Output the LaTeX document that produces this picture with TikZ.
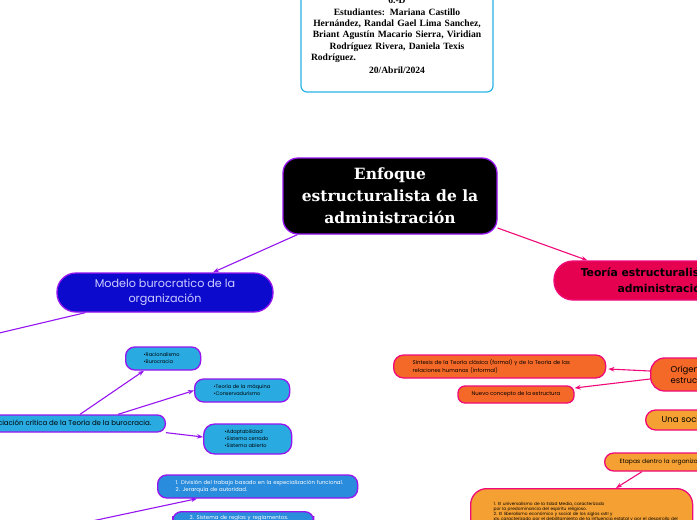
\documentclass[tikz,border=0pt]{standalone}
\usepackage{fontspec}
\setmainfont{Liberation Serif}
\newfontfamily\popf{Poppins}
\newfontfamily\dvsf{DejaVu Sans}
\newfontfamily\dvserif{DejaVu Serif}
\usetikzlibrary{arrows.meta,calc}
\definecolor{purp}{RGB}{150,20,240}
\definecolor{pinkl}{RGB}{240,10,120}
\definecolor{cyanb}{RGB}{40,180,230}
\definecolor{royal}{RGB}{12,10,205}
\definecolor{lblue}{RGB}{41,171,226}
\definecolor{mblue}{RGB}{42,140,220}
\definecolor{crim}{RGB}{230,0,80}
\definecolor{oran}{RGB}{245,105,40}
\definecolor{lora}{RGB}{245,160,50}
\definecolor{lav}{RGB}{205,205,255}
\tikzset{
  x=1pt,y=-1pt,
  bx/.style={draw=purp, line width=1.3pt, inner sep=0pt, rounded corners=#1},
  bx/.default=10pt,
  pbx/.style={draw=pinkl, line width=1.3pt, inner sep=0pt, rounded corners=#1},
  pbx/.default=10pt,
  parr/.style={draw=purp, line width=1.1pt, -{Stealth[length=6pt,width=4.5pt]}},
  karr/.style={draw=pinkl, line width=1.1pt, -{Stealth[length=6pt,width=4.5pt]}},
  tiny/.style={font=\popf\fontsize{5}{7}\selectfont},
}
\begin{document}
\begin{tikzpicture}
\useasboundingbox (0,0) rectangle (697,520);
\fill[white] (0,0) rectangle (697,520);
\clip (0,0) rectangle (697,520);

% info box
\node[draw=cyanb, line width=1.2pt, rounded corners=6pt, fill=white, inner xsep=4pt,
  text width=184pt, align=center, minimum height=113pt,
  font=\bfseries\fontsize{9.6}{11.4}\selectfont] (info) at (397,35.5)
  {6.-D\\Estudiantes: Mariana Castillo\\Hernández, Randal Gael Lima Sanchez,\\Briant Agustín Macario Sierra, Viridian\\Rodríguez Rivera, Daniela Texis\\\makebox[172pt][l]{Rodríguez.}\\[1.5pt]20/Abril/2024};

% root
\node[bx=15pt, fill=black, text=white, minimum width=214pt, minimum height=76pt, align=center,
  font=\dvserif\bfseries\fontsize{15.5}{22}\selectfont] (root) at (390,196)
  {Enfoque\\estructuralista de la\\ administración};

% left branch
\node[bx=19pt, fill=royal, text=lav, minimum width=216pt, minimum height=39pt, align=center,
  font=\popf\fontsize{11.2}{15}\selectfont] (modelo) at (165,292.5)
  {Modelo burocratico de la\\organización};
\coordinate (offl) at (-5,334);
\coordinate (offb) at (85,522.5);

\node[bx=8pt, fill=lblue, minimum height=17pt, inner xsep=14pt, anchor=east,
  font=\popf\fontsize{7}{9}\selectfont] (apre) at (166,423.5)
  {Apreciación crítica de la Teoría de la burocracia.};

\node[bx=9pt, fill=lblue, anchor=west, minimum width=75pt, minimum height=23pt, inner xsep=18pt,
  text width=39pt, align=left, tiny] (racio) at (125,358.5)
  {\mbox{•Racionalismo}\\\mbox{•Burocracia}};
\node[bx=9pt, fill=lblue, anchor=west, minimum width=95pt, minimum height=23pt, inner xsep=19pt,
  text width=57pt, align=left, tiny] (maq) at (194,390.5)
  {\mbox{•Teoría de la máquina}\\\mbox{•Conservadurismo}};
\node[bx=11pt, fill=lblue, anchor=west, minimum width=88pt, minimum height=30pt, inner xsep=21pt,
  text width=46pt, align=left, tiny] (adap) at (203,439)
  {\mbox{•Adaptabilidad}\\\mbox{•Sistema cerrado}\\\mbox{•Sistema abierto}};

\node[bx=9pt, fill=mblue, text=white, anchor=west, minimum width=200pt, minimum height=23pt, inner xsep=18pt,
  text width=164pt, align=left, font=\popf\fontsize{5.4}{7}\selectfont] (div) at (157,486.5)
  {\mbox{1. División del trabajo basado en la especialización funcional.}\\\mbox{2. Jerarquía de autoridad.}};
\node[bx=9pt, fill=mblue, text=white, anchor=north west, minimum width=141pt, inner xsep=17pt, inner ysep=4pt,
  text width=107pt, align=left, font=\popf\fontsize{5.4}{7}\selectfont] (sis) at (172,511)
  {\mbox{3. Sistema de reglas y reglamentos.}\\[16pt]};

\draw[parr] ($(root.south west)+(15,0)$) -- ($(modelo.north)+(48,0)$);
\draw[purp, line width=1.1pt] ($(modelo.south west)+(29,0)$) -- (offl);
\draw[parr] ($(apre.north east)+(-86,0)$) -- ($(racio.south west)+(19,0)$);
\draw[parr] ($(apre.north east)+(-48,0)$) -- (maq.west);
\draw[parr] (apre.south east) -- ($(adap.west)+(0,-2)$);
\draw[parr] (offb) -- ($(div.south west)+(40,0)$);

% right branch
\node[pbx=19pt, fill=crim, minimum width=218pt, minimum height=39pt, align=center,
  font=\dvsf\bfseries\fontsize{10.8}{16}\selectfont] (teoria) at (663,280.5)
  {Teoría estructuralista de la\\administración};
\draw[karr] (root.east |- 0,228) -- ($(teoria.north west)+(34,0)$);

\node[pbx=14pt, fill=oran, anchor=west, minimum width=120pt, minimum height=33pt, inner xsep=20pt,
  text width=80pt, align=left, font=\popf\fontsize{8.5}{11}\selectfont] (orig) at (650,374.5)
  {Orígenes de la\\estructura};
\node[pbx=10pt, fill=oran, anchor=west, minimum width=212pt, minimum height=23pt, inner xsep=19pt,
  text width=174pt, align=left, font=\popf\fontsize{5.4}{8}\selectfont] (sint) at (393,366.5)
  {\mbox{Síntesis de la Teoría clásica (formal) y de la Teoría de las}\\\mbox{relaciones humanas (informal)}};
\node[pbx=7pt, fill=oran, minimum width=116pt, minimum height=17pt, align=center,
  font=\popf\fontsize{5.4}{7}\selectfont] (nuevo) at (516,394.5)
  {Nuevo concepto de la estructura};
\draw[karr] ($(orig.west)+(0,-3.5)$) -- ($(sint.east)+(2,2.5)$);
\draw[karr] ($(orig.west)+(0,4.5)$) -- ($(nuevo.east)+(0,-6.5)$);

\node[pbx=10pt, fill=lora, anchor=west, minimum width=180pt, minimum height=20pt, inner xsep=16pt,
  text width=148pt, align=left, font=\popf\fontsize{8.5}{10}\selectfont] (soc) at (645,420)
  {\mbox{Una sociedad de organizaciones}};
\node[pbx=9pt, fill=lora, anchor=west, minimum width=150pt, minimum height=18pt, inner xsep=15pt,
  text width=120pt, align=left, font=\popf\fontsize{6}{8}\selectfont] (etap) at (604,462)
  {\mbox{Etapas dentro la organización}};
\node[pbx=16pt, fill=lora, anchor=north west, minimum width=222pt, minimum height=52pt, inner xsep=23pt,
  text width=176pt, align=left, font=\popf\fontsize{4.3}{5.2}\selectfont] (univ) at (470,488)
  {\mbox{1. El universalismo de la Edad Media, caracterizado}\\
   \mbox{por la predominancia del espíritu religioso.}\\
   \mbox{2. El liberalismo económico y social de los siglos xvIII y}\\
   \mbox{xIx, caracterizado por el debilitamiento de la influencia estatal y por el desarrollo del}\\
   \mbox{capitalismo.}\\[10pt]};
\draw[karr] ($(etap.south west)+(38,0)$) -- ($(univ.north west)+(146,0)$);
\end{tikzpicture}
\end{document}
